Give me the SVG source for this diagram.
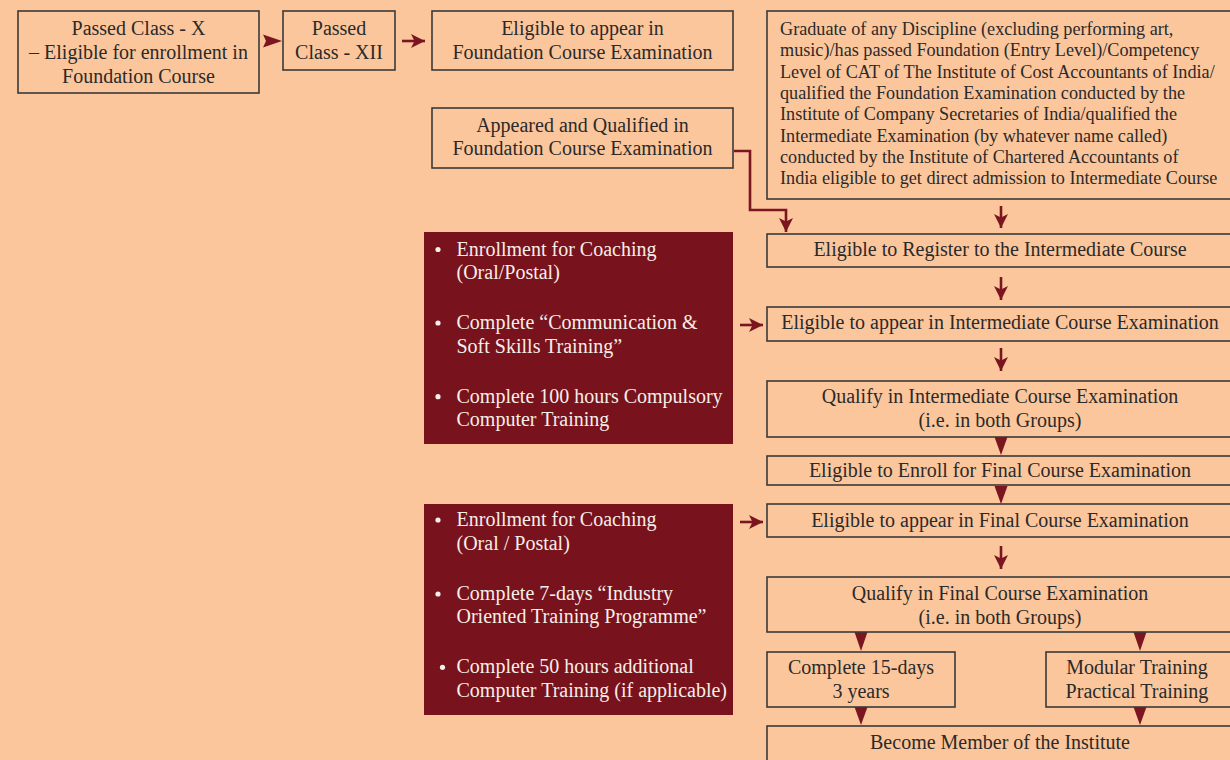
<svg xmlns="http://www.w3.org/2000/svg" width="1230" height="760" viewBox="0 0 1230 760">
<defs>
<marker id="ah" viewBox="0 0 10 10" refX="10" refY="5" markerWidth="14" markerHeight="14" markerUnits="userSpaceOnUse" orient="auto">
<path d="M0,0 L10,5 L0,10 L2.5,5 z" fill="#7B1621"/>
</marker>
<style>
.box{fill:none;stroke:#3a3a3a;stroke-width:1.6}
.dark{fill:#78121C;stroke:none}
.t{font-family:"Liberation Serif",serif;font-size:20px;fill:#2a2a2a;text-anchor:middle}
.tl{font-family:"Liberation Serif",serif;font-size:18.2px;fill:#2a2a2a}
.w{font-family:"Liberation Serif",serif;font-size:20px;fill:#f6eee8}
.bul{fill:#f6eee8}
.c{fill:none;stroke:#7B1621;stroke-width:2.6;marker-end:url(#ah)}
.tri{fill:#7B1621}
</style>
</defs>
<rect x="0" y="0" width="1230" height="760" fill="#FCC69C"/>

<g id="connectors">
<path class="tri" d="M263,34.5 L282,41 L263,47.5 L266,41 z"/>
<line class="c" x1="402" y1="41" x2="425" y2="41"/>
<path class="c" d="M734,151 H750 V210 H786 V232"/>
<line class="c" x1="1001" y1="206" x2="1001" y2="228"/>
<line class="c" x1="1001" y1="277" x2="1001" y2="300"/>
<line class="c" x1="740" y1="325" x2="763" y2="325"/>
<line class="c" x1="1001" y1="348" x2="1001" y2="371"/>
<path class="tri" d="M994.5,437 L1007.5,437 L1001,455 z"/>
<path class="tri" d="M994.5,486 L1007.5,486 L1001,504 z"/>
<line class="c" x1="740" y1="522" x2="763" y2="522"/>
<line class="c" x1="1001" y1="546" x2="1001" y2="569"/>
<path class="tri" d="M854.5,632 L867.5,632 L861,651 z"/>
<path class="tri" d="M1133.5,632 L1146.5,632 L1140,651 z"/>
<path class="tri" d="M854.5,707 L867.5,707 L861,725 z"/>
<path class="tri" d="M1133.5,707 L1146.5,707 L1140,725 z"/>
</g>

<g id="n-class10">
<rect class="box" x="18" y="11" width="241" height="82"/>
<text class="t" x="138.5" y="35">Passed Class - X</text>
<text class="t" x="138.5" y="59">– Eligible for enrollment in</text>
<text class="t" x="138.5" y="83">Foundation Course</text>
</g>

<g id="n-class12">
<rect class="box" x="283" y="11" width="112" height="59"/>
<text class="t" x="339" y="35">Passed</text>
<text class="t" x="339" y="59">Class - XII</text>
</g>

<g id="n-foundation-eligible">
<rect class="box" x="432" y="11" width="301" height="59"/>
<text class="t" x="582.5" y="35">Eligible to appear in</text>
<text class="t" x="582.5" y="59">Foundation Course Examination</text>
</g>

<g id="n-foundation-qualified">
<rect class="box" x="432" y="108" width="301" height="60"/>
<text class="t" x="582.5" y="132">Appeared and Qualified in</text>
<text class="t" x="582.5" y="155">Foundation Course Examination</text>
</g>

<g id="n-graduate">
<rect class="box" x="767" y="11" width="470" height="188"/>
<text class="tl" x="780" y="35">Graduate of any Discipline (excluding performing art,</text>
<text class="tl" x="780" y="56.3">music)/has passed Foundation (Entry Level)/Competency</text>
<text class="tl" x="780" y="77.6">Level of CAT of The Institute of Cost Accountants of India/</text>
<text class="tl" x="780" y="98.9">qualified the Foundation Examination conducted by the</text>
<text class="tl" x="780" y="120.2">Institute of Company Secretaries of India/qualified the</text>
<text class="tl" x="780" y="141.5">Intermediate Examination (by whatever name called)</text>
<text class="tl" x="780" y="162.8">conducted by the Institute of Chartered Accountants of</text>
<text class="tl" x="780" y="184.1">India eligible to get direct admission to Intermediate Course</text>
</g>

<g id="n-register-inter">
<rect class="box" x="767" y="234" width="470" height="33"/>
<text class="t" x="1000" y="256">Eligible to Register to the Intermediate Course</text>
</g>

<g id="n-appear-inter">
<rect class="box" x="767" y="307" width="470" height="34"/>
<text class="t" x="1000" y="328.5">Eligible to appear in Intermediate Course Examination</text>
</g>

<g id="n-qualify-inter">
<rect class="box" x="767" y="381" width="470" height="56"/>
<text class="t" x="1000" y="403">Qualify in Intermediate Course Examination</text>
<text class="t" x="1000" y="427">(i.e. in both Groups)</text>
</g>

<g id="n-enroll-final">
<rect class="box" x="767" y="456" width="470" height="29"/>
<text class="t" x="1000" y="477">Eligible to Enroll for Final Course Examination</text>
</g>

<g id="n-appear-final">
<rect class="box" x="767" y="504" width="470" height="33"/>
<text class="t" x="1000" y="527">Eligible to appear in Final Course Examination</text>
</g>

<g id="n-qualify-final">
<rect class="box" x="767" y="577" width="470" height="55"/>
<text class="t" x="1000" y="600">Qualify in Final Course Examination</text>
<text class="t" x="1000" y="623.5">(i.e. in both Groups)</text>
</g>

<g id="n-15days">
<rect class="box" x="767" y="652" width="188" height="55"/>
<text class="t" x="861" y="674">Complete 15-days</text>
<text class="t" x="861" y="697.5">3 years</text>
</g>

<g id="n-modular">
<rect class="box" x="1046" y="652" width="190" height="55"/>
<text class="t" x="1137" y="674">Modular Training</text>
<text class="t" x="1137" y="697.5">Practical Training</text>
</g>

<g id="n-member">
<rect class="box" x="767" y="726" width="470" height="40"/>
<text class="t" x="1000" y="748.5">Become Member of the Institute</text>
</g>

<g id="n-inter-requirements">
<rect class="dark" x="424" y="232" width="309" height="212"/>
<circle class="bul" cx="438" cy="249.5" r="2.6"/>
<text class="w" x="456.5" y="255.7">Enrollment for Coaching</text>
<text class="w" x="456.5" y="279.3">(Oral/Postal)</text>
<circle class="bul" cx="438" cy="323" r="2.6"/>
<text class="w" x="456.5" y="329">Complete “Communication &amp;</text>
<text class="w" x="456.5" y="352.7">Soft Skills Training”</text>
<circle class="bul" cx="438" cy="396.7" r="2.6"/>
<text class="w" x="456.5" y="402.7">Complete 100 hours Compulsory</text>
<text class="w" x="456.5" y="426">Computer Training</text>
</g>

<g id="n-final-requirements">
<rect class="dark" x="424" y="504" width="309" height="211"/>
<circle class="bul" cx="438" cy="520" r="2.6"/>
<text class="w" x="456.5" y="526">Enrollment for Coaching</text>
<text class="w" x="456.5" y="550">(Oral / Postal)</text>
<circle class="bul" cx="438" cy="594" r="2.6"/>
<text class="w" x="456.5" y="600">Complete 7-days “Industry</text>
<text class="w" x="456.5" y="623.3">Oriented Training Programme”</text>
<circle class="bul" cx="442.5" cy="667.3" r="2.6"/>
<text class="w" x="456.5" y="673.3">Complete 50 hours additional</text>
<text class="w" x="456.5" y="697.3">Computer Training (if applicable)</text>
</g>
</svg>
